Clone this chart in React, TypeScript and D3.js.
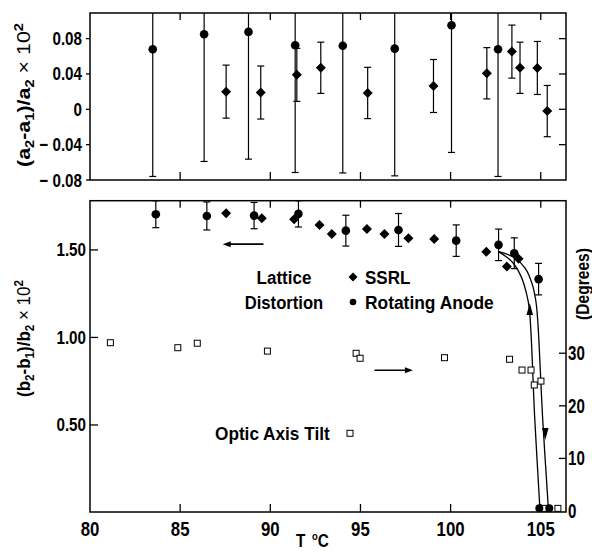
import React from "react";
import * as d3 from "d3";

// ---------- Data ----------
// Top panel: (a2-a1)/a2 x 10^2
const topSSRL: [number, number, number][] = [
  [87.55, 0.02, 0.03], [89.47, 0.019, 0.03], [91.47, 0.039, 0.03], [92.8, 0.047, 0.029],
  [95.4, 0.0185, 0.029], [99.05, 0.0264, 0.03], [102.01, 0.0408, 0.029], [103.4, 0.0653, 0.03],
  [103.85, 0.047, 0.029], [104.81, 0.0468, 0.03], [105.36, -0.002, 0.029],
];
const topAnode: [number, number, number][] = [
  [83.48, 0.068, 0.144], [86.33, 0.085, 0.144], [88.79, 0.0876, 0.144], [91.38, 0.0725, 0.144],
  [94.02, 0.072, 0.144], [96.9, 0.0687, 0.144], [100.05, 0.0952, 0.144], [102.63, 0.068, 0.144],
];
// Bottom panel: lattice distortion (b2-b1)/b2 x 10^2
const botSSRL: [number, number][] = [
  [87.55, 1.71], [89.53, 1.681], [91.32, 1.675], [92.73, 1.643], [93.41, 1.591], [95.36, 1.62],
  [96.33, 1.591], [97.66, 1.567], [99.09, 1.563], [101.98, 1.489], [103.12, 1.405], [103.77, 1.449],
];
const botAnode: [number, number, number][] = [
  [83.65, 1.704, 0.077], [86.48, 1.694, 0.08], [89.1, 1.696, 0.075], [91.56, 1.706, 0.075],
  [94.19, 1.61, 0.088], [97.11, 1.614, 0.094], [100.31, 1.553, 0.09], [102.66, 1.529, 0.09],
  [103.53, 1.481, 0.088], [104.88, 1.333, 0.09],
];
const botAnodeZero: [number, number][] = [[104.92, 0.024], [105.47, 0.024]];
// Optic axis tilt (degrees, right axis)
const tilt: [number, number][] = [
  [81.13, 32.0], [84.87, 31.05], [85.95, 31.9], [89.84, 30.4], [94.76, 29.99], [94.98, 29.04],
  [99.66, 29.15], [103.27, 28.85], [103.96, 26.8], [104.46, 26.8], [104.64, 23.96], [105.01, 24.7],
  [105.21, 0.5], [105.95, 0.5],
];
// Hysteresis guide curves (left axis units)
const curveUp: [number, number][] = [
  [102.66, 1.49], [103.42, 1.431], [103.92, 1.346], [104.2, 1.254], [104.36, 1.169],
  [104.67, 0.529], [104.95, 0.026],
];
const curveDown: [number, number][] = [
  [102.66, 1.49], [103.49, 1.458], [104.14, 1.395], [104.51, 1.31], [104.72, 1.214],
  [104.83, 1.1], [105.11, 0.529], [105.42, 0.026],
];
const arrowUpAt: [number, number] = [104.39, 1.157];
const arrowDownAt: [number, number] = [105.25, 0.454];
const leftArrow: [number, number, number] = [89.62, 87.36, 1.533]; // from T, to T, value
const rightArrow: [number, number, number] = [95.78, 97.91, 26.75]; // from T, to T, degrees

const xTicks = [80, 85, 90, 95, 100, 105];
const xInnerTicks = [85, 90, 95, 100, 105];
const topYTicks = [0.08, 0.04, 0, -0.04, -0.08];
const topYLabels = ["0.08", "0.04", "0", "\u2212 0.04", "\u2212 0.08"];
const botYTicks = [1.5, 1.0, 0.5];
const botYLabels = ["1.50", "1.00", "0.50"];
const degTicks = [0, 10, 20, 30];

// ---------- Layout ----------
const W = 592, H = 552;
const X0 = 90, X1 = 566;
const T0 = 13, T1 = 180;
const B0 = 200.7, B1 = 512;

const x = d3.scaleLinear().domain([80, 106.4]).range([X0, X1]);
const yTop = d3.scaleLinear().domain([-0.08, 0.109]).range([T1, T0]);
const yBot = d3.scaleLinear().domain([0, 1.78]).range([512.5, 200.9]);
const yDeg = d3.scaleLinear().domain([0, 59]).range([511, B0]);

const SANS = "'Liberation Sans', Arial, Helvetica, sans-serif";
const SQ = 0.8; // horizontal condensing for the condensed-bold look

function CText({ x, y, size, anchor = "start", rotate = 0, sx = SQ, children }: any) {
  return (
    <text transform={`translate(${x},${y}) rotate(${rotate}) scale(${sx},1)`} textAnchor={anchor}
      fontFamily={SANS} fontWeight="bold" fontSize={size}>
      {children}
    </text>
  );
}

function Diamond({ cx, cy, r = 5 }: { cx: number; cy: number; r?: number }) {
  return <path d={`M${cx},${cy - r}L${cx + r},${cy}L${cx},${cy + r}L${cx - r},${cy}Z`} fill="#000" />;
}

export default function App() {
  const line = d3.line<[number, number]>().x((d) => x(d[0])).y((d) => yBot(d[1])).curve(d3.curveCatmullRom);
  const cap = 3.5;
  const ux = x(arrowUpAt[0]), uy = yBot(arrowUpAt[1]);
  const dx = x(arrowDownAt[0]), dy = yBot(arrowDownAt[1]);
  return (
    <svg width={W} height={H} style={{ position: "absolute", left: 0, top: 0, background: "#fff" }}>
      <defs>
        <clipPath id="clipTop"><rect x={X0} y={T0} width={X1 - X0} height={T1 - T0} /></clipPath>
      </defs>
      <rect width={W} height={H} fill="#fff" />

      {/* ---------- TOP PANEL ---------- */}
      <rect x={X0} y={T0} width={X1 - X0} height={T1 - T0} fill="none" stroke="#000" strokeWidth={1.5} />
      {xInnerTicks.map((t) => (
        <g key={"tt" + t}>
          <line x1={x(t)} x2={x(t)} y1={T0} y2={T0 + 7} stroke="#000" strokeWidth={1.3} />
          <line x1={x(t)} x2={x(t)} y1={T1} y2={T1 - 8} stroke="#000" strokeWidth={1.3} />
        </g>
      ))}
      {topYTicks.map((t, i) => (
        <g key={"ty" + t}>
          <line x1={X0 - 4} x2={X0} y1={yTop(t)} y2={yTop(t)} stroke="#000" strokeWidth={1.3} />
          {i < 4 && <line x1={X1 - 7} x2={X1} y1={yTop(t)} y2={yTop(t)} stroke="#000" strokeWidth={1.3} />}
          <CText x={82} y={yTop(t) + 6.5} size={19} anchor="end">{topYLabels[i]}</CText>
        </g>
      ))}
      <g clipPath="url(#clipTop)">
        {topAnode.map(([t, v, e], i) => (
          <g key={"ta" + i}>
            <line x1={x(t)} x2={x(t)} y1={yTop(v - e)} y2={yTop(v + e)} stroke="#000" strokeWidth={1.2} />
            <line x1={x(t) - cap} x2={x(t) + cap} y1={yTop(v - e)} y2={yTop(v - e)} stroke="#000" strokeWidth={1.2} />
            <circle cx={x(t)} cy={yTop(v)} r={4.3} fill="#000" />
          </g>
        ))}
        {topSSRL.map(([t, v, e], i) => (
          <g key={"ts" + i}>
            <line x1={x(t)} x2={x(t)} y1={yTop(v - e)} y2={yTop(v + e)} stroke="#000" strokeWidth={1.2} />
            <line x1={x(t) - cap} x2={x(t) + cap} y1={yTop(v - e)} y2={yTop(v - e)} stroke="#000" strokeWidth={1.2} />
            <line x1={x(t) - cap} x2={x(t) + cap} y1={yTop(v + e)} y2={yTop(v + e)} stroke="#000" strokeWidth={1.2} />
            <Diamond cx={x(t)} cy={yTop(v)} />
          </g>
        ))}
      </g>
      <text transform={`translate(30,95) rotate(-90)`} textAnchor="middle" fontFamily={SANS} fontWeight="bold" fontSize={19}
        textLength={144} lengthAdjust="spacingAndGlyphs">
        (a<tspan fontSize={13} dy={4}>2</tspan><tspan dy={-4}>-a</tspan><tspan fontSize={13} dy={4}>1</tspan>
        <tspan dy={-4}>)/a</tspan><tspan fontSize={13} dy={4}>2</tspan><tspan dy={-4} fontWeight="normal"> × 10</tspan>
        <tspan fontSize={13} dy={-7}>2</tspan>
      </text>

      {/* ---------- BOTTOM PANEL ---------- */}
      <rect x={X0} y={B0} width={X1 - X0} height={B1 - B0} fill="none" stroke="#000" strokeWidth={1.5} />
      {xInnerTicks.map((t) => (
        <g key={"bt" + t}>
          <line x1={x(t)} x2={x(t)} y1={B0} y2={B0 + 7} stroke="#000" strokeWidth={1.3} />
          <line x1={x(t)} x2={x(t)} y1={B1} y2={B1 - 8} stroke="#000" strokeWidth={1.3} />
        </g>
      ))}
      {xTicks.map((t) => (
        <CText key={"xl" + t} x={x(t)} y={536} size={21} anchor="middle">{t}</CText>
      ))}
      {botYTicks.map((t, i) => (
        <g key={"by" + t}>
          <line x1={X0} x2={X0 + 8} y1={yBot(t)} y2={yBot(t)} stroke="#000" strokeWidth={1.3} />
          <CText x={86} y={yBot(t) + 6.5} size={19} anchor="end">{botYLabels[i]}</CText>
        </g>
      ))}
      {degTicks.map((t) => (
        <g key={"dg" + t}>
          {t > 0 && <line x1={X1 - 7} x2={X1} y1={yDeg(t)} y2={yDeg(t)} stroke="#000" strokeWidth={1.3} />}
          <CText x={568} y={yDeg(t) + 7} size={21} sx={0.72}>{t}</CText>
        </g>
      ))}
      <CText x={589} y={284} size={19} anchor="middle" rotate={-90} sx={0.82}>(Degrees)</CText>
      <text transform={`translate(30,338.5) rotate(-90)`} textAnchor="middle" fontFamily={SANS} fontWeight="bold" fontSize={19}
        textLength={117} lengthAdjust="spacingAndGlyphs">
        (b<tspan fontSize={13} dy={4}>2</tspan><tspan dy={-4}>-b</tspan><tspan fontSize={13} dy={4}>1</tspan>
        <tspan dy={-4}>)/b</tspan><tspan fontSize={13} dy={4}>2</tspan><tspan dy={-4} fontWeight="normal"> × 10</tspan>
        <tspan fontSize={13} dy={-7}>2</tspan>
      </text>
      <CText x={296} y={547} size={18} sx={0.85}>T</CText>
      <CText x={312} y={547} size={18} sx={0.85}>
        <tspan fontSize={11} dy={-7}>o</tspan><tspan dy={7}>C</tspan>
      </CText>

      {/* hysteresis curves */}
      <path d={line(curveUp) || ""} fill="none" stroke="#000" strokeWidth={1.3} />
      <path d={line(curveDown) || ""} fill="none" stroke="#000" strokeWidth={1.3} />
      <path d={`M${ux},${uy - 7}L${ux + 3.3},${uy + 5}L${ux - 3.3},${uy + 5}Z`} fill="#000" />
      <path d={`M${dx},${dy + 7}L${dx + 3.3},${dy - 5}L${dx - 3.3},${dy - 5}Z`} fill="#000" />

      {/* arrows */}
      <line x1={x(leftArrow[0])} x2={x(leftArrow[1]) + 6} y1={yBot(leftArrow[2])} y2={yBot(leftArrow[2])} stroke="#000" strokeWidth={1.6} />
      <path d={`M${x(leftArrow[1])},${yBot(leftArrow[2])}l8,-3l0,6Z`} fill="#000" />
      <line x1={x(rightArrow[0])} x2={x(rightArrow[1]) - 6} y1={yDeg(rightArrow[2])} y2={yDeg(rightArrow[2])} stroke="#000" strokeWidth={1.6} />
      <path d={`M${x(rightArrow[1])},${yDeg(rightArrow[2])}l-8,-3l0,6Z`} fill="#000" />

      {/* optic axis tilt squares */}
      {tilt.map(([t, d], i) => (
        <rect key={"sq" + i} x={x(t) - 3} y={yDeg(d) - 3} width={6} height={6} fill="#fff" stroke="#000" strokeWidth={1} />
      ))}

      {/* lattice distortion */}
      {botAnode.map(([t, v, e], i) => (
        <g key={"ba" + i}>
          <line x1={x(t)} x2={x(t)} y1={yBot(v - e)} y2={yBot(v + e)} stroke="#000" strokeWidth={1.2} />
          <line x1={x(t) - cap} x2={x(t) + cap} y1={yBot(v - e)} y2={yBot(v - e)} stroke="#000" strokeWidth={1.2} />
          <line x1={x(t) - cap} x2={x(t) + cap} y1={yBot(v + e)} y2={yBot(v + e)} stroke="#000" strokeWidth={1.2} />
          <circle cx={x(t)} cy={yBot(v)} r={4.3} fill="#000" />
        </g>
      ))}
      {botAnodeZero.map(([t, v], i) => (
        <circle key={"bz" + i} cx={x(t)} cy={yBot(v)} r={4} fill="#000" />
      ))}
      {botSSRL.map(([t, v], i) => (
        <Diamond key={"bs" + i} cx={x(t)} cy={yBot(v)} />
      ))}

      {/* legend */}
      <CText x={284} y={284.3} size={18.5} anchor="middle" sx={0.92}>Lattice</CText>
      <CText x={284} y={309.3} size={18.5} anchor="middle" sx={0.9}>Distortion</CText>
      <Diamond cx={353} cy={277} r={4.5} />
      <CText x={365} y={284.3} size={18.5} sx={0.92}>SSRL</CText>
      <circle cx={353} cy={302} r={3.3} fill="#000" />
      <CText x={365} y={309.3} size={18.5} sx={0.94}>Rotating Anode</CText>
      <CText x={215} y={440} size={18.5} sx={0.93}>Optic Axis Tilt</CText>
      <rect x={347} y={430.3} width={6} height={6} fill="#fff" stroke="#000" strokeWidth={1} />
    </svg>
  );
}
